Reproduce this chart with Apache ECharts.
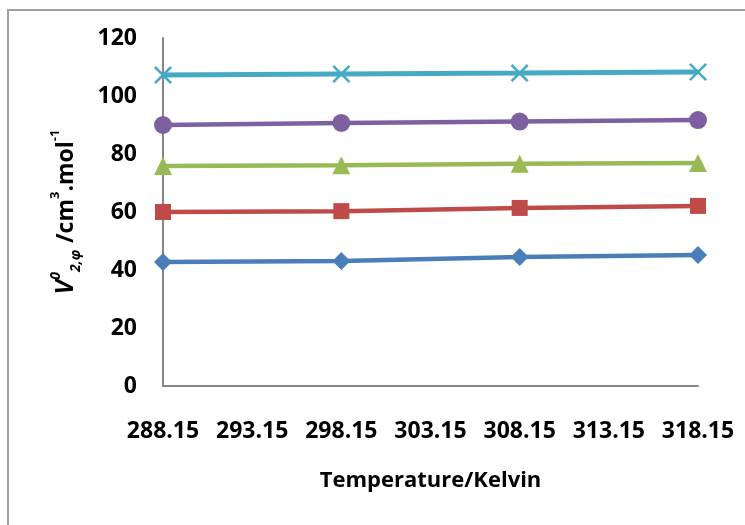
<!DOCTYPE html>
<html>
<head>
<meta charset="utf-8">
<script src="https://cdn.jsdelivr.net/npm/echarts@6/dist/echarts.min.js"></script>
<style>
  html, body { margin: 0; padding: 0; background: #fff; }
  #chart { width: 745px; height: 525px; }
</style>
</head>
<body>
<div id="chart"></div>
<script>
// 温度 (K)
const temps = [288.15, 298.15, 308.15, 318.15];
// 横轴刻度
const xTicks = [288.15, 293.15, 298.15, 303.15, 308.15, 313.15, 318.15];
// 五条曲线
const seriesBlue = [42.8, 43.1, 44.5, 45.2];
const seriesRed = [60.0, 60.3, 61.4, 62.1];
const seriesGreen = [75.9, 76.1, 76.6, 76.9];
const seriesPurple = [90.0, 90.7, 91.2, 91.7];
const seriesCyan = [107.2, 107.6, 107.9, 108.3];

const font = '"Open Sans", "Noto Sans", sans-serif';
const crossPath = 'path://M0,1L1,0L5,4L9,0L10,1L6,5L10,9L9,10L5,6L1,10L0,9L4,5Z';

function pairs(vals) {
  return temps.map((t, i) => [t, vals[i]]);
}

function line(vals, color, symbol, size, width) {
  return {
    type: 'line',
    data: pairs(vals),
    symbol: symbol,
    symbolSize: size,
    showSymbol: true,
    lineStyle: { color: color, width: width },
    itemStyle: { color: color },
    emphasis: { disabled: true },
    z: 3
  };
}

let myChart = echarts.init(document.getElementById('chart'));
myChart.setOption({
  animation: false,
  grid: { left: 163, right: 47, top: 38, bottom: 139 },
  graphic: [{
    type: 'rect',
    shape: { x: 8, y: 10, width: 800, height: 600 },
    style: { fill: 'none', stroke: '#a0a0a0', lineWidth: 2 }
  }],
  xAxis: {
    type: 'value',
    min: 288.15,
    max: 318.15,
    splitLine: { show: false },
    axisLine: { lineStyle: { color: '#868686', width: 2 } },
    axisTick: { show: false, customValues: xTicks },
    axisLabel: {
      customValues: xTicks,
      formatter: v => v.toFixed(2),
      margin: 34,
      color: '#000',
      fontFamily: font,
      fontWeight: 'bold',
      fontSize: 23
    },
    name: 'Temperature/Kelvin',
    nameLocation: 'middle',
    nameGap: 84,
    nameTextStyle: { color: '#000', fontFamily: font, fontWeight: 'bold', fontSize: 22 }
  },
  yAxis: {
    type: 'value',
    min: 0,
    max: 120,
    interval: 20,
    splitLine: { show: false },
    axisLine: { show: true, lineStyle: { color: '#868686', width: 2 } },
    axisTick: { show: false },
    axisLabel: {
      margin: 26,
      color: '#000',
      fontFamily: font,
      fontWeight: 'bold',
      fontSize: 23
    },
    name: '{i|V}{sup|0}{sub|2,φ}  {b|/cm}{bsup|3}{b|.mol}{bsup|-1}',
    nameLocation: 'middle',
    nameGap: 80,
    nameTextStyle: {
      color: '#000',
      rich: {
        i: { fontFamily: font, fontWeight: 'bold', fontStyle: 'italic', fontSize: 25, lineHeight: 34, color: '#000' },
        sup: { fontFamily: font, fontWeight: 'bold', fontStyle: 'italic', fontSize: 14, verticalAlign: 'top', lineHeight: 14, color: '#000' },
        sub: { fontFamily: font, fontWeight: 'bold', fontStyle: 'italic', fontSize: 14, verticalAlign: 'bottom', lineHeight: 14, color: '#000' },
        b: { fontFamily: font, fontWeight: 'bold', fontSize: 23, lineHeight: 34, color: '#000' },
        bsup: { fontFamily: font, fontWeight: 'bold', fontSize: 13, verticalAlign: 'top', lineHeight: 13, color: '#000' }
      }
    }
  },
  series: [
    line(seriesBlue, '#4a7ebb', 'diamond', 18, 4.5),
    line(seriesRed, '#be4b48', 'rect', 16, 4.5),
    line(seriesGreen, '#98b954', 'triangle', 18, 4.5),
    line(seriesPurple, '#7d60a0', 'circle', 18, 4.5),
    line(seriesCyan, '#46aac5', crossPath, 18, 5)
  ]
});
</script>
</body>
</html>
